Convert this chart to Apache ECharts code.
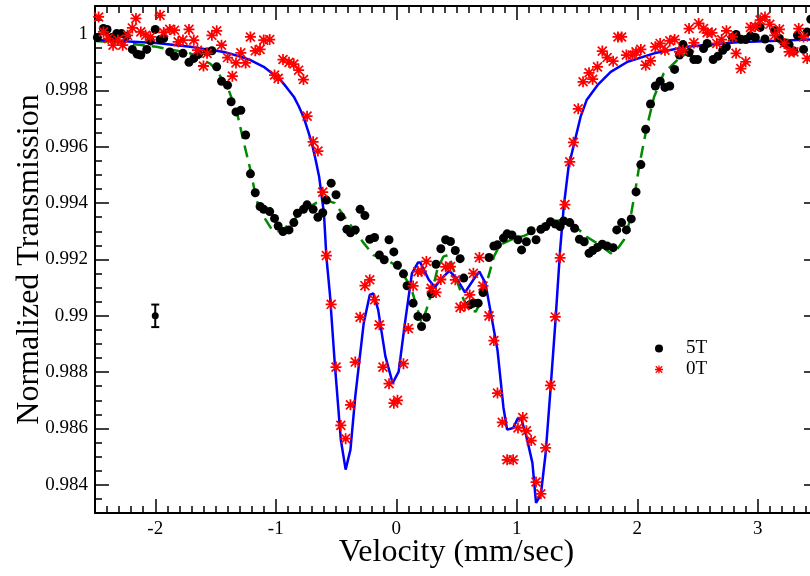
<!DOCTYPE html>
<html>
<head>
<meta charset="utf-8">
<title>Normalized Transmission</title>
<script src="https://cdn.jsdelivr.net/npm/echarts@6/dist/echarts.min.js"></script>
<style>
html, body { margin: 0; padding: 0; background: #fff; }
#chart { width: 810px; height: 576px; }
</style>
</head>
<body>
<div id="chart"></div>
<script>
// 5T measured points
var fiveTX = [-2.48, -2.43, -2.40, -2.36, -2.32, -2.28, -2.24, -2.19, -2.15, -2.12, -2.07, -2.04, -2.00, -1.96, -1.93, -1.88, -1.84, -1.77, -1.72, -1.68,
  -1.64, -1.57, -1.53, -1.49, -1.45, -1.40, -1.37, -1.33, -1.29, -1.25, -1.21, -1.17, -1.13, -1.10, -1.05, -1.01, -0.98, -0.94, -0.89, -0.85,
  -0.82, -0.77, -0.74, -0.69, -0.65, -0.61, -0.58, -0.54, -0.50, -0.46, -0.41, -0.38, -0.34, -0.30, -0.26, -0.22, -0.18, -0.14, -0.10, -0.06,
  -0.02, 0.01, 0.06, 0.09, 0.14, 0.18, 0.21, 0.25, 0.29, 0.33, 0.37, 0.41, 0.45, 0.49, 0.53, 0.56, 0.61, 0.64, 0.68, 0.72,
  0.77, 0.81, 0.84, 0.89, 0.92, 0.96, 1.01, 1.04, 1.08, 1.12, 1.16, 1.20, 1.24, 1.28, 1.32, 1.36, 1.39, 1.44, 1.48, 1.52,
  1.56, 1.60, 1.63, 1.67, 1.71, 1.75, 1.80, 1.83, 1.87, 1.91, 1.95, 1.99, 2.03, 2.07, 2.11, 2.15, 2.19, 2.23, 2.27, 2.31,
  2.35, 2.38, 2.43, 2.47, 2.50, 2.55, 2.58, 2.63, 2.67, 2.71, 2.74, 2.79, 2.82, 2.86, 2.90, 2.94, 2.98, 3.02, 3.06, 3.10,
  3.14, 3.18, 3.22, 3.26, 3.30, 3.33, 3.38, 3.41, 3.44];
var fiveTY = [0.99988, 1.00020, 1.00017, 0.99988, 1.00002, 1.00002, 0.99993, 0.99946, 0.99929, 0.99926, 0.99946, 0.99976, 1.00017, 0.99981, 0.99985, 0.99937, 0.99922, 0.99932, 0.99900, 0.99914,
  0.99929, 0.99937, 0.99941, 0.99884, 0.99833, 0.99819, 0.99760, 0.99724, 0.99730, 0.99642, 0.99504, 0.99437, 0.99388, 0.99378, 0.99370, 0.99346, 0.99319, 0.99299, 0.99305, 0.99331,
  0.99364, 0.99378, 0.99394, 0.99378, 0.99350, 0.99366, 0.99411, 0.99471, 0.99430, 0.99352, 0.99307, 0.99295, 0.99305, 0.99378, 0.99356, 0.99272, 0.99278, 0.99216, 0.99199, 0.99270,
  0.99227, 0.99180, 0.99149, 0.99107, 0.99045, 0.98998, 0.98962, 0.98995, 0.99078, 0.99183, 0.99238, 0.99270, 0.99264, 0.99232, 0.99203, 0.99134, 0.99039, 0.99045, 0.99045, 0.99083,
  0.99207, 0.99248, 0.99252, 0.99276, 0.99291, 0.99287, 0.99270, 0.99234, 0.99263, 0.99302, 0.99270, 0.99307, 0.99317, 0.99334, 0.99326, 0.99317, 0.99337, 0.99331, 0.99311, 0.99272,
  0.99263, 0.99222, 0.99232, 0.99243, 0.99254, 0.99248, 0.99242, 0.99305, 0.99331, 0.99305, 0.99344, 0.99440, 0.99537, 0.99662, 0.99752, 0.99816, 0.99833, 0.99811, 0.99816, 0.99875,
  0.99926, 0.99963, 0.99935, 0.99910, 0.99910, 0.99949, 0.99967, 0.99910, 0.99922, 0.99943, 0.99955, 0.99988, 0.99999, 0.99982, 0.99981, 0.99994, 0.99988, 1.00024, 0.99983, 0.99949,
  1.00012, 0.99985, 0.99969, 0.99963, 0.99940, 0.99996, 0.99946, 1.00008, 1.00053];

// 0T measured points
var zeroTX = [-2.47, -2.43, -2.39, -2.35, -2.31, -2.27, -2.23, -2.19, -2.16, -2.12, -2.08, -2.04, -1.96, -1.93, -1.88, -1.84, -1.81, -1.77, -1.72, -1.68,
  -1.65, -1.60, -1.57, -1.53, -1.49, -1.45, -1.40, -1.36, -1.33, -1.29, -1.25, -1.21, -1.17, -1.13, -1.10, -1.05, -1.01, -0.98, -0.94, -0.89,
  -0.85, -0.81, -0.77, -0.74, -0.69, -0.65, -0.61, -0.58, -0.54, -0.50, -0.46, -0.42, -0.38, -0.34, -0.30, -0.26, -0.22, -0.18, -0.14, -0.11,
  -0.06, -0.02, 0.01, 0.06, 0.10, 0.14, 0.18, 0.21, 0.25, 0.29, 0.33, 0.37, 0.41, 0.45, 0.49, 0.53, 0.57, 0.61, 0.64, 0.69,
  0.72, 0.77, 0.81, 0.84, 0.88, 0.92, 0.97, 1.01, 1.05, 1.08, 1.12, 1.16, 1.20, 1.24, 1.28, 1.32, 1.36, 1.40, 1.44, 1.47,
  1.51, 1.55, 1.60, 1.63, 1.67, 1.71, 1.75, 1.80, 1.84, 1.87, 1.91, 1.96, 1.99, 2.03, 2.07, 2.11, 2.15, 2.19, 2.23, 2.27,
  2.31, 2.35, 2.38, 2.43, 2.47, 2.51, 2.55, 2.58, 2.62, 2.66, 2.70, 2.74, 2.79, 2.82, 2.86, 2.90, 2.94, 2.98, 3.02, 3.06,
  3.10, 3.14, 3.18, 3.22, 3.26, 3.30, 3.34, 3.38, 3.41];
var zeroTY = [1.00061, 1.00008, 0.99985, 0.99961, 0.99979, 0.99961, 0.99996, 1.00022, 1.00056, 1.00008, 0.99996, 0.99990, 1.00067, 1.00006, 1.00017, 1.00014, 0.99973, 0.99979, 1.00017, 0.99979,
  0.99943, 0.99887, 0.99932, 0.99996, 1.00012, 0.99961, 0.99917, 0.99851, 0.99898, 0.99934, 0.99898, 0.99990, 0.99941, 0.99946, 0.99979, 0.99981, 0.99855, 0.99843, 0.99910, 0.99900,
  0.99894, 0.99872, 0.99839, 0.99709, 0.99618, 0.99585, 0.99439, 0.99214, 0.99041, 0.98818, 0.98611, 0.98564, 0.98684, 0.98836, 0.98995, 0.99107, 0.99128, 0.99057, 0.98968, 0.98818,
  0.98759, 0.98690, 0.98700, 0.98830, 0.98955, 0.99106, 0.99157, 0.99158, 0.99193, 0.99098, 0.99083, 0.99129, 0.99174, 0.99175, 0.99128, 0.99030, 0.99036, 0.99074, 0.99151, 0.99207,
  0.99106, 0.99000, 0.98912, 0.98726, 0.98622, 0.98489, 0.98489, 0.98602, 0.98639, 0.98592, 0.98557, 0.98410, 0.98368, 0.98531, 0.98753, 0.98996, 0.99206, 0.99395, 0.99547, 0.99616,
  0.99735, 0.99831, 0.99863, 0.99840, 0.99884, 0.99940, 0.99917, 0.99904, 0.99990, 0.99990, 0.99926, 0.99926, 0.99937, 0.99946, 0.99890, 0.99905, 0.99955, 0.99967, 0.99943, 0.99976,
  0.99981, 0.99937, 0.99943, 1.00020, 0.99969, 1.00038, 1.00020, 1.00005, 1.00005, 0.99967, 0.99981, 1.00012, 0.99990, 0.99932, 0.99878, 0.99902, 1.00024, 1.00026, 1.00050, 1.00061,
  1.00035, 0.99996, 1.00017, 0.99967, 0.99937, 0.99937, 1.00020, 0.99990, 0.99914];

// 0T fit (blue solid)
var fit0TX = [-2.50, -2.26, -1.99, -1.71, -1.57, -1.43, -1.29, -1.21, -1.10, -1.02, -0.96, -0.91, -0.85, -0.81, -0.77, -0.73, -0.70, -0.67, -0.64, -0.62,
  -0.60, -0.58, -0.55, -0.51, -0.46, -0.42, -0.38, -0.34, -0.27, -0.22, -0.19, -0.15, -0.09, -0.03, 0.02, 0.07, 0.13, 0.18, 0.20, 0.27,
  0.32, 0.38, 0.44, 0.50, 0.57, 0.64, 0.69, 0.74, 0.79, 0.84, 0.89, 0.92, 0.97, 1.01, 1.04, 1.08, 1.13, 1.16, 1.20, 1.24,
  1.28, 1.32, 1.36, 1.39, 1.43, 1.49, 1.53, 1.58, 1.67, 1.78, 1.92, 2.14, 2.41, 2.83, 3.50];
var fit0TY = [0.99979, 0.99975, 0.99969, 0.99955, 0.99946, 0.99937, 0.99920, 0.99908, 0.99884, 0.99858, 0.99837, 0.99811, 0.99778, 0.99745, 0.99707, 0.99654, 0.99612, 0.99556, 0.99494, 0.99429,
  0.99364, 0.99210, 0.99074, 0.98830, 0.98560, 0.98454, 0.98525, 0.98714, 0.98974, 0.99074, 0.99080, 0.99021, 0.98856, 0.98761, 0.98802, 0.98968, 0.99151, 0.99189, 0.99189, 0.99128,
  0.99102, 0.99134, 0.99160, 0.99134, 0.99083, 0.99128, 0.99157, 0.99116, 0.98998, 0.98879, 0.98673, 0.98596, 0.98602, 0.98637, 0.98631, 0.98572, 0.98478, 0.98336, 0.98365, 0.98513,
  0.98738, 0.98974, 0.99234, 0.99388, 0.99529, 0.99636, 0.99707, 0.99766, 0.99819, 0.99866, 0.99902, 0.99932, 0.99955, 0.99971, 0.99982];

// 5T fit (green dashed)
var fit5TX = [-2.50, -2.26, -1.99, -1.77, -1.71, -1.60, -1.54, -1.49, -1.45, -1.40, -1.36, -1.32, -1.27, -1.21, -1.16, -1.10, -1.03, -0.96, -0.88, -0.77,
  -0.66, -0.58, -0.51, -0.44, -0.35, -0.27, -0.19, -0.08, 0.01, 0.06, 0.12, 0.17, 0.21, 0.25, 0.30, 0.34, 0.39, 0.43, 0.45, 0.50,
  0.56, 0.61, 0.66, 0.71, 0.75, 0.81, 0.86, 0.95, 1.06, 1.20, 1.31, 1.39, 1.47, 1.58, 1.68, 1.78, 1.83, 1.89, 1.94, 1.98,
  2.02, 2.08, 2.14, 2.22, 2.36, 2.55, 2.83, 3.10, 3.50];
var fit5TY = [0.99976, 0.99969, 0.99955, 0.99937, 0.99932, 0.99908, 0.99894, 0.99872, 0.99843, 0.99813, 0.99766, 0.99719, 0.99624, 0.99518, 0.99411, 0.99352, 0.99305, 0.99299, 0.99329, 0.99374,
  0.99402, 0.99411, 0.99400, 0.99358, 0.99305, 0.99258, 0.99216, 0.99199, 0.99175, 0.99145, 0.99104, 0.99033, 0.98974, 0.99021, 0.99092, 0.99163, 0.99210, 0.99216, 0.99199, 0.99128,
  0.99057, 0.99021, 0.99015, 0.99057, 0.99116, 0.99210, 0.99252, 0.99270, 0.99284, 0.99311, 0.99334, 0.99343, 0.99323, 0.99281, 0.99254, 0.99222, 0.99234, 0.99270, 0.99340, 0.99435,
  0.99541, 0.99671, 0.99778, 0.99861, 0.99920, 0.99955, 0.99973, 0.99979, 0.99982];

// representative error bar
var errX = -2;
var errY = 0.99;
var errD = 0.0004;

// tick labels
var xTickValues = [-2, -1, 0, 1, 2, 3];
var yTickValues = [0.984, 0.986, 0.988, 0.99, 0.992, 0.994, 0.996, 0.998, 1];

var serif = "'Liberation Serif', 'Times New Roman', serif";
var asterisk = 'path://M0 4.2H10V5.8H0Z M4.2 0H5.8V10H4.2Z M0.4 1.5L1.5 0.4L9.6 8.5L8.5 9.6Z M8.5 0.4L9.6 1.5L1.5 9.6L0.4 8.5Z';

function zip(xs, ys) {
  return xs.map(function (x, i) { return [x, ys[i]]; });
}

function majorAxis(dim, pos, withLabels) {
  var ticks = dim === 'x' ? xTickValues : yTickValues;
  return {
    type: 'value',
    position: pos,
    min: dim === 'x' ? -2.5 : 0.983,
    max: dim === 'x' ? 3.5 : 1.001,
    axisLine: { show: true, onZero: false, lineStyle: { color: '#000', width: 2 } },
    axisTick: { show: true, inside: true, length: 14, customValues: ticks, lineStyle: { color: '#000', width: 1.5 } },
    axisLabel: { show: withLabels, customValues: ticks, color: '#000', fontSize: 19, fontFamily: serif, margin: 7 },
    splitLine: { show: false }
  };
}

function minorAxis(dim, pos) {
  return {
    type: 'value',
    position: pos,
    min: dim === 'x' ? -2.5 : 0.983,
    max: dim === 'x' ? 3.5 : 1.001,
    interval: dim === 'x' ? 0.1 : 0.0005,
    axisLine: { show: false, onZero: false },
    axisTick: { show: true, inside: true, length: 7, lineStyle: { color: '#000', width: 1.5 } },
    axisLabel: { show: false },
    splitLine: { show: false }
  };
}

var xBottom = majorAxis('x', 'bottom', true);
xBottom.name = 'Velocity (mm/sec)';
xBottom.nameLocation = 'middle';
xBottom.nameMoveOverlap = false;
xBottom.nameGap = 24;
xBottom.nameTextStyle = { color: '#000', fontSize: 32, fontFamily: serif };

var yLeft = majorAxis('y', 'left', true);
yLeft.name = 'Normalized Transmission';
yLeft.nameLocation = 'middle';
yLeft.nameRotate = 90;
yLeft.nameMoveOverlap = false;
yLeft.nameGap = 49;
yLeft.nameTextStyle = { color: '#000', fontSize: 32, fontFamily: serif };

var chart = echarts.init(document.getElementById('chart'));

chart.setOption({
  animation: false,
  backgroundColor: '#fff',
  grid: { left: 95, top: 6, width: 723, height: 507, outerBoundsMode: 'none', containLabel: false },
  legend: {
    orient: 'vertical',
    left: 650,
    top: 334,
    itemWidth: 44,
    itemHeight: 8,
    itemGap: 2,
    selectedMode: false,
    data: ['5T', '0T'],
    textStyle: { color: '#000', fontSize: 19, lineHeight: 18, fontFamily: serif }
  },
  xAxis: [xBottom, minorAxis('x', 'bottom'), majorAxis('x', 'top', false), minorAxis('x', 'top')],
  yAxis: [yLeft, minorAxis('y', 'left'), majorAxis('y', 'right', false), minorAxis('y', 'right')],
  series: [
    {
      name: '5T fit',
      type: 'line',
      data: zip(fit5TX, fit5TY),
      showSymbol: false,
      lineStyle: { color: '#008a00', width: 2.5, type: [12, 7] },
      z: 2
    },
    {
      name: '0T fit',
      type: 'line',
      data: zip(fit0TX, fit0TY),
      showSymbol: false,
      lineStyle: { color: '#0000ff', width: 2.5 },
      z: 3
    },
    {
      name: '5T',
      type: 'scatter',
      data: zip(fiveTX, fiveTY),
      symbol: 'circle',
      symbolSize: 9,
      itemStyle: { color: '#000', opacity: 1 },
      z: 4
    },
    {
      name: '0T',
      type: 'scatter',
      data: zip(zeroTX, zeroTY),
      symbol: asterisk,
      symbolSize: 11,
      itemStyle: { color: '#ff0000', opacity: 1 },
      z: 5
    },
    {
      name: 'error',
      type: 'custom',
      data: [[errX, errY, errD]],
      renderItem: function (params, api) {
        var x = api.value(0), y = api.value(1), d = api.value(2);
        var top = api.coord([x, y + d]);
        var bot = api.coord([x, y - d]);
        var mid = api.coord([x, y]);
        var st = { stroke: '#000', lineWidth: 2 };
        return {
          type: 'group',
          children: [
            { type: 'line', shape: { x1: top[0], y1: top[1], x2: bot[0], y2: bot[1] }, style: st },
            { type: 'line', shape: { x1: top[0] - 4, y1: top[1], x2: top[0] + 4, y2: top[1] }, style: st },
            { type: 'line', shape: { x1: bot[0] - 4, y1: bot[1], x2: bot[0] + 4, y2: bot[1] }, style: st },
            { type: 'circle', shape: { cx: mid[0], cy: mid[1], r: 3.5 }, style: { fill: '#000' } }
          ]
        };
      },
      z: 6
    }
  ]
});
</script>
</body>
</html>
